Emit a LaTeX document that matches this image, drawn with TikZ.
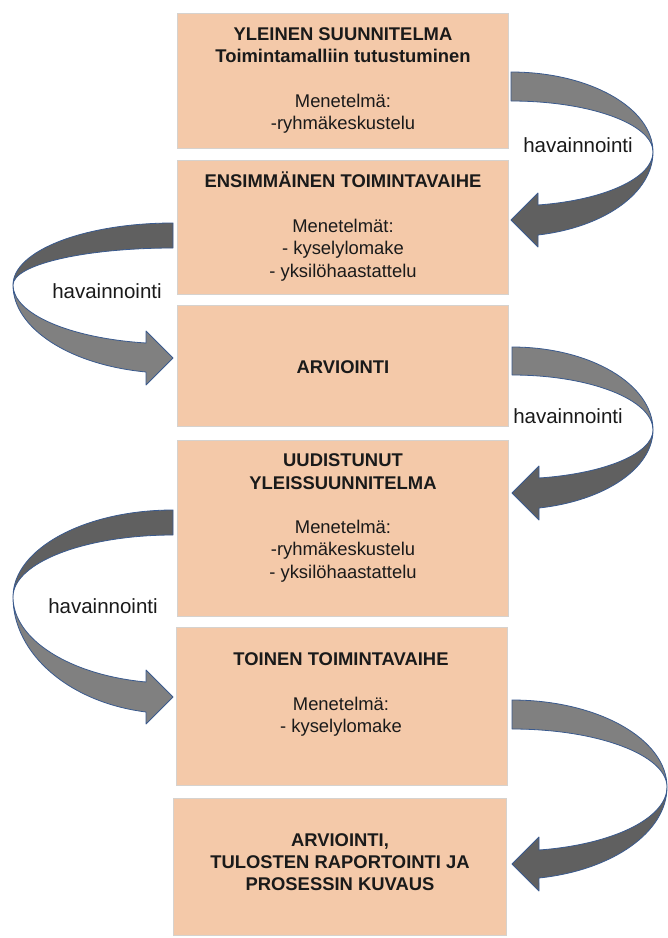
\documentclass[tikz,border=0pt]{standalone}
\usepackage{fontspec}
\setmainfont{Liberation Sans}
\definecolor{boxfill}{HTML}{F4C9A9}
\definecolor{boxline}{HTML}{D6D2CE}
\definecolor{arrowlight}{HTML}{808080}
\definecolor{arrowdark}{HTML}{606060}
\definecolor{arrowedge}{HTML}{3A5A8E}
\definecolor{txt}{HTML}{1A1A1A}
% #1 x0, #2 y0 (tail top, px down), #3 side (1 right, -1 left), #4 rx, #5 upper radius,
% #6 tail width, #7 shaft top at head, #8 shaft bottom at head, #9 tip y
\newcommand\bentarrow[9]{%
  \pgfmathsetmacro\baPhi{acos(27/#4)}%
  \pgfmathsetmacro\baSin{sin(\baPhi)}%
  \pgfmathsetmacro\baBo{(#8-#2-#5)/\baSin}%
  \pgfmathsetmacro\baBi{(#7-#2-#5)/\baSin}%
  \pgfmathsetmacro\baAi{#5-#6}%
  \pgfmathsetmacro\baExt{90-90*#3}%
  \pgfmathsetmacro\baLow{\baExt-#3*\baPhi}%
  \pgfmathsetmacro\baHx{#1+#3*27}%
  \pgfmathsetmacro\baXx{#1+#3*#4}%
  \pgfmathsetmacro\baCy{#2+#5}%
  \ifnum#3=1 \def\baUp{arrowlight}\def\baLo{arrowdark}\else\def\baUp{arrowdark}\def\baLo{arrowlight}\fi
  \filldraw[arrowstyle, fill=\baUp] (#1,-#2)
     arc[start angle=90, end angle=\baExt, x radius=#4pt, y radius=#5pt]
     arc[start angle=\baExt, end angle=90, x radius=#4pt, y radius=\baAi pt] -- cycle;
  \filldraw[arrowstyle, fill=\baLo] (\baXx,-\baCy)
     arc[start angle=\baExt, end angle=\baLow, x radius=#4pt, y radius=\baBo pt]
     -- (\baHx,-#9-27) -- (#1,-#9) -- (\baHx,-#9+27) -- (\baHx,-#7)
     arc[start angle=\baLow, end angle=\baExt, x radius=#4pt, y radius=\baBi pt] -- cycle;
}
\begin{document}
\begin{tikzpicture}[x=1pt,y=1pt,
  box/.style={draw=boxline, line width=0.8pt, fill=boxfill, rectangle, inner sep=0pt, anchor=north west},
  boxtext/.style={align=center, text=txt, inner sep=0pt, font=\fontsize{18.4}{22.3}\selectfont},
  lab/.style={text=txt, inner sep=0pt, font=\fontsize{20.5}{24}\selectfont},
  arrowstyle/.style={draw=arrowedge, line width=0.8pt, line join=round}]
\fill[white] (0,0) rectangle (668,-938);
\useasboundingbox (0,0) rectangle (668,-938);

% boxes
\node[box, minimum width=331pt, minimum height=135pt] (b1) at (177,-13) {};
\node[box, minimum width=331pt, minimum height=134pt] (b2) at (177,-160) {};
\node[box, minimum width=331pt, minimum height=121pt] (b3) at (177,-305) {};
\node[box, minimum width=331pt, minimum height=176pt] (b4) at (177,-440) {};
\node[box, minimum width=331pt, minimum height=158pt] (b5) at (176,-627) {};
\node[box, minimum width=333pt, minimum height=137pt] (b6) at (173,-798) {};

% box texts
\node[boxtext] (t1) at (343,-80.5) {\textbf{YLEINEN SUUNNITELMA}\\\textbf{Toimintamalliin tutustuminen}\\[22.3pt]Menetelmä:\\-ryhmäkeskustelu};
\node[boxtext] (t2) at (343,-226.5) {\textbf{ENSIMMÄINEN TOIMINTAVAIHE}\\[22.3pt]Menetelmät:\\- kyselylomake\\- yksilöhaastattelu};
\node[boxtext] (t3) at (343,-367) {\textbf{ARVIOINTI}};
\node[boxtext] (t4) at (343,-518) {\textbf{UUDISTUNUT}\\\textbf{YLEISSUUNNITELMA}\\[22.3pt]Menetelmä:\\-ryhmäkeskustelu\\- yksilöhaastattelu};
\node[boxtext] (t5) at (341,-694.5) {\textbf{TOINEN TOIMINTAVAIHE}\\[22.3pt]Menetelmä:\\- kyselylomake};
\node[boxtext] (t6) at (340,-862) {\textbf{ARVIOINTI,}\\\textbf{TULOSTEN RAPORTOINTI JA}\\\textbf{PROSESSIN KUVAUS}};

% curved arrows
\bentarrow{511}{72}{1}{142}{80}{29}{205}{235}{220}
\bentarrow{173}{223}{-1}{160}{62}{25}{343}{372}{358}
\bentarrow{512}{347}{1}{141}{83}{28}{478}{508}{493}
\bentarrow{173}{510}{-1}{160}{87}{25}{682}{712}{697}
\bentarrow{512}{700}{1}{155}{87}{29}{850}{878}{864}

% labels
\node[lab] (l1) at (578,-145) {havainnointi};
\node[lab] (l2) at (107,-291) {havainnointi};
\node[lab] (l3) at (568,-416) {havainnointi};
\node[lab] (l4) at (103,-606) {havainnointi};
\end{tikzpicture}
\end{document}
